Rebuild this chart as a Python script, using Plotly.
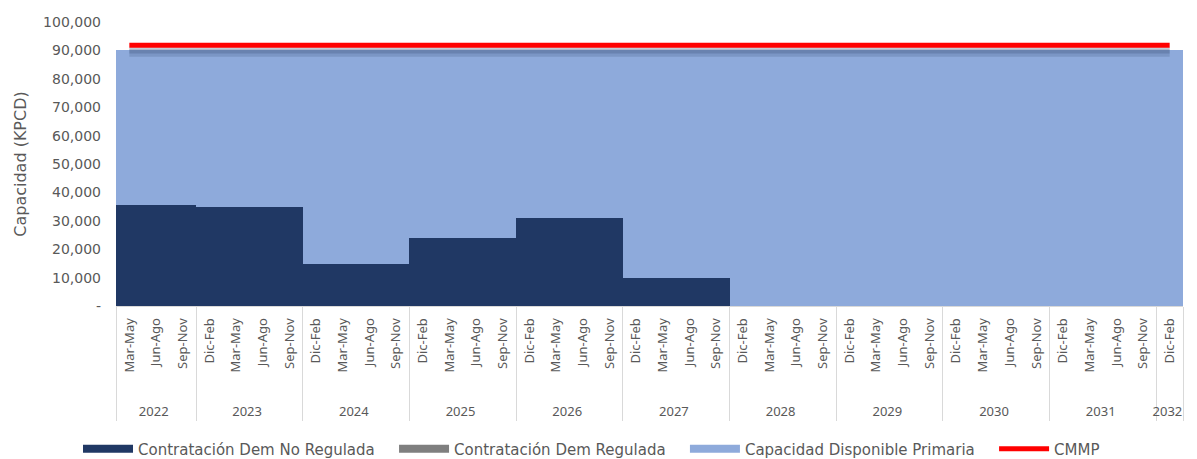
import plotly.graph_objects as go

# categorias (año, trimestre)
anios = ["2022", "2022", "2022",
         "2023", "2023", "2023", "2023",
         "2024", "2024", "2024", "2024",
         "2025", "2025", "2025", "2025",
         "2026", "2026", "2026", "2026",
         "2027", "2027", "2027", "2027",
         "2028", "2028", "2028", "2028",
         "2029", "2029", "2029", "2029",
         "2030", "2030", "2030", "2030",
         "2031", "2031", "2031", "2031",
         "2032"]
trimestres = ["Mar-May", "Jun-Ago", "Sep-Nov"] + \
    ["Dic-Feb", "Mar-May", "Jun-Ago", "Sep-Nov"] * 9 + ["Dic-Feb"]

no_regulada = [35500, 35500, 35500,
               34800, 34800, 34800, 34800,
               14900, 14900, 14900, 14900,
               23900, 23900, 23900, 23900,
               31000, 31000, 31000, 31000,
               9750, 9750, 9750, 9750,
               0, 0, 0, 0,
               0, 0, 0, 0,
               0, 0, 0, 0,
               0, 0, 0, 0,
               0]
regulada = [0] * 40
capacidad_total = [90100] * 40
cmmp = [91800] * 40

disponible = [t - a - b for t, a, b in zip(capacidad_total, no_regulada, regulada)]

dark = "#203864"
grey = "#7f7f7f"
light = "#8eaadb"
red = "#ff0000"
txt = "#595959"

# multicategory ordena los trimestres por primera aparicion: los de 2022
# llevan un espacio de ancho cero para que Dic-Feb quede primero en los demas años.
# Espacios duros delante para separar la fila de años.
pad = "\u00a0" * 7
etiquetas = [pad + q + ("\u200b" if a == "2022" else "") for a, q in zip(anios, trimestres)]
x = [anios, etiquetas]

fig = go.Figure()
fig.add_trace(go.Bar(x=x, y=no_regulada, marker=dict(color=dark, line_width=0),
                     name="Contratación Dem No Regulada", showlegend=False))
fig.add_trace(go.Bar(x=x, y=regulada, marker=dict(color=grey, line_width=0),
                     name="Contratación Dem Regulada", showlegend=False))
fig.add_trace(go.Bar(x=x, y=disponible, marker=dict(color=light, line_width=0),
                     name="Capacidad Disponible Primaria", showlegend=False))

# sombra de la linea CMMP
fig.add_trace(go.Scatter(x=x, y=[v - 2300 for v in cmmp], mode="lines",
                         line=dict(color="rgba(40,60,100,0.18)", width=10),
                         showlegend=False, hoverinfo="skip"))
fig.add_trace(go.Scatter(x=x, y=[v - 2000 for v in cmmp], mode="lines",
                         line=dict(color="rgba(40,60,100,0.22)", width=5),
                         showlegend=False, hoverinfo="skip"))
fig.add_trace(go.Scatter(x=x, y=cmmp, mode="lines",
                         line=dict(color=red, width=5),
                         name="CMMP", showlegend=False))

# entradas de leyenda (rectangulos anchos como en Excel)
gap = "\u00a0" * 3
for nm, col in [("Contratación Dem No Regulada", dark),
                ("Contratación Dem Regulada", grey),
                ("Capacidad Disponible Primaria", light),
                ("CMMP", red)]:
    fig.add_trace(go.Scatter(x=[None], y=[None], mode="lines", name=nm + gap,
                             line=dict(color=col, width=8 if nm != "CMMP" else 5)))

fig.update_layout(
    width=1197, height=459,
    margin=dict(l=116, r=14, t=22, b=153),
    barmode="stack", bargap=0,
    plot_bgcolor="white", paper_bgcolor="white",
    font=dict(family="DejaVu Sans", size=14, color=txt),
    legend=dict(orientation="h", xref="container", yref="container",
                x=0.5, xanchor="center", y=0.022, yanchor="middle",
                traceorder="normal", font=dict(size=15, color=txt),
                itemwidth=50, tracegroupgap=0),
)
fig.update_xaxes(type="multicategory", tickangle=-90, showgrid=False,
                 showline=True, linecolor="#d9d9d9", linewidth=1,
                 dividercolor="#d9d9d9", dividerwidth=1, ticklabelstandoff=6,
                 tickfont=dict(family="Noto Sans", size=13, color=txt), automargin=False)
fig.update_yaxes(range=[0, 100000], tickvals=list(range(0, 100001, 10000)),
                 ticktext=["-"] + [f"{v:,}" for v in range(10000, 100001, 10000)],
                 showgrid=True, gridcolor="#d9d9d9", griddash="dashdot", gridwidth=1,
                 zeroline=False, tickfont=dict(size=14, color=txt), ticklabelstandoff=14,
                 title=dict(text="Capacidad (KPCD)", font=dict(size=16, color=txt), standoff=12),
                 automargin=False)

fig.write_html("out.html", config={"displayModeBar": False},
               post_script="document.body.style.margin='0';")
